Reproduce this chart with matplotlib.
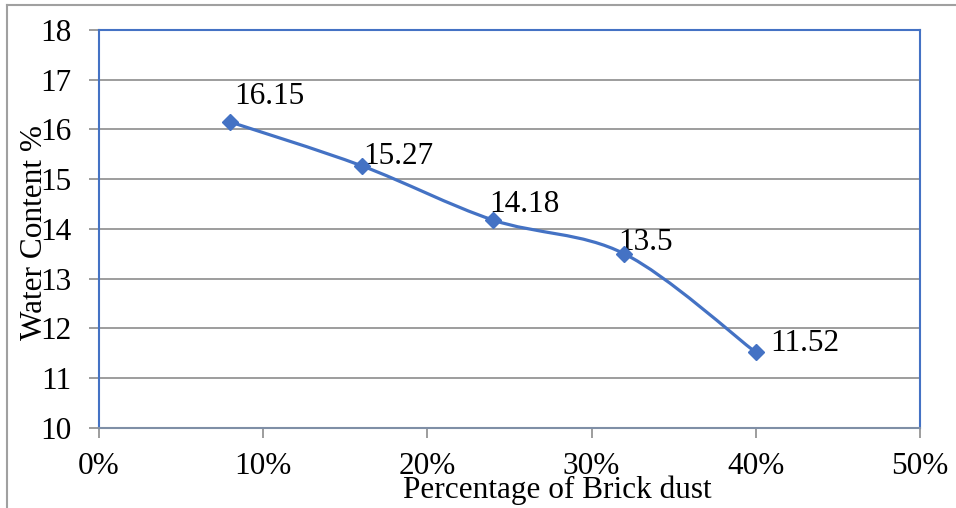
import numpy as np
import matplotlib
matplotlib.use('Agg')
from matplotlib import pyplot as plt
from matplotlib.path import Path
from matplotlib.patches import PathPatch
from matplotlib.lines import Line2D
from matplotlib.ticker import FuncFormatter

# datos
brick_pct = [8, 16, 24, 32, 40]
water = [16.15, 15.27, 14.18, 13.5, 11.52]
labels = ['16.15', '15.27', '14.18', '13.5', '11.52']
label_offsets = [(4, 11), (2, -5), (-4, 1), (-6, -3), (14, -6)]  # pixeles

blue = '#4472C4'
plt.rcParams['font.family'] = ['Liberation Serif', 'DejaVu Serif']
fs = 22.5

fig = plt.figure(figsize=(9.56, 5.08), dpi=100)
ax = fig.add_axes([99/956, 80/508, (920-99)/956, (428-30)/508])

# linea suavizada tipo Excel (bezier cubica entre puntos)
pts = np.column_stack([brick_pct, water]).astype(float)
verts = [pts[0]]
codes = [Path.MOVETO]
n = len(pts)
for i in range(n-1):
    p0 = pts[i-1] if i > 0 else pts[i]
    p3 = pts[i+2] if i+2 < n else pts[i+1]
    c1 = pts[i] + (pts[i+1]-p0)/6
    c2 = pts[i+1] - (p3-pts[i])/6
    verts += [c1, c2, pts[i+1]]
    codes += [Path.CURVE4]*3
ax.add_patch(PathPatch(Path(verts, codes), facecolor='none', edgecolor=blue, lw=2.3, zorder=3))
ax.plot(brick_pct, water, ls='none', marker='D', ms=8, color=blue, zorder=4)

for x, y, t, off in zip(brick_pct, water, labels, label_offsets):
    ax.annotate(t, (x, y), xytext=off, textcoords='offset pixels', fontsize=fs,
                ha='left', va='bottom')

ax.set_xlim(0, 50)
ax.set_ylim(10, 18)
ax.set_xticks(range(0, 51, 10))
ax.set_yticks(range(10, 19))
ax.xaxis.set_major_formatter(FuncFormatter(lambda v, p: '%d%%' % v))
ax.grid(axis='y', color='#8c8c8c', lw=1.2)
ax.set_axisbelow(True)
for s in ['left', 'right', 'top']:
    ax.spines[s].set_color(blue)
    ax.spines[s].set_linewidth(1.5)
ax.spines['bottom'].set_color('#7f8fa6')
ax.spines['bottom'].set_linewidth(1.5)
ax.tick_params(axis='both', labelsize=fs, color='#8c8c8c', length=7, width=1.2)
ax.tick_params(axis='y', pad=13)
ax.tick_params(axis='x', pad=10)

fig.text(35/956, 1-232/508, 'Water Content %', rotation=90, fontsize=fs,
         ha='center', va='center')
fig.text(557/956, 1-490/508, 'Percentage of Brick dust', fontsize=fs,
         ha='center', va='center')

# borde exterior gris
fig.add_artist(Line2D([7/956, 1], [1-5/508, 1-5/508], color='#a0a0a0', lw=1.5))
fig.add_artist(Line2D([7/956, 7/956], [0, 1-5/508], color='#a0a0a0', lw=1.5))

fig.savefig('out.png', dpi=100)
